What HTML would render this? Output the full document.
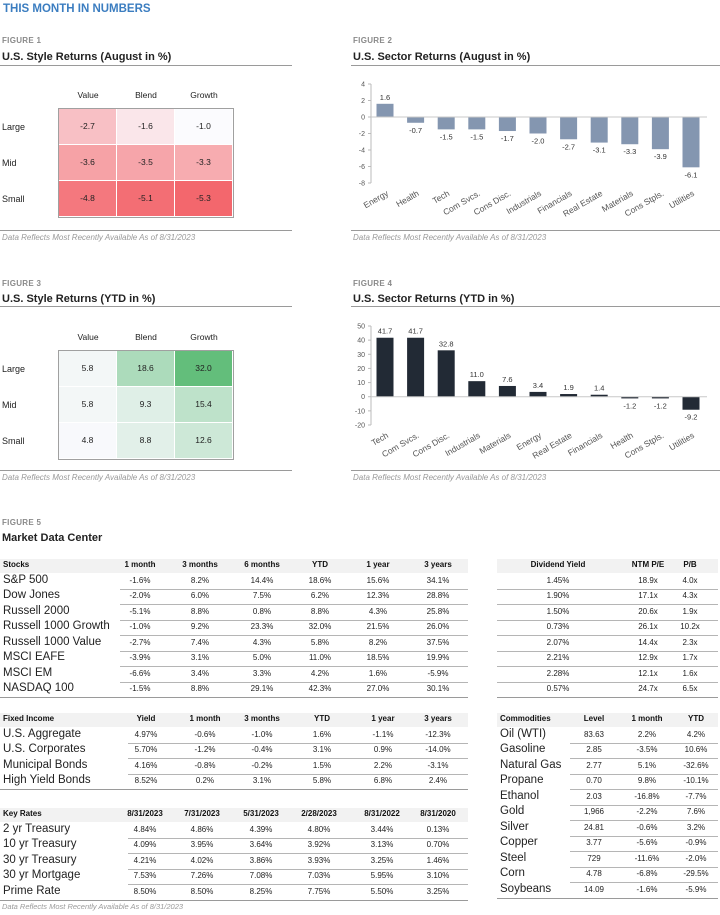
<!DOCTYPE html>
<html><head><meta charset="utf-8">
<style>
body{margin:0;width:720px;height:915px;background:#fff;font-family:"Liberation Sans",sans-serif;position:relative;overflow:hidden;color:#222}
.a{position:absolute;white-space:nowrap}
.fig{font-size:8px;font-weight:bold;color:#8a8a8a;letter-spacing:.3px}
.ttl{font-size:11px;font-weight:bold;color:#222}
.ln{position:absolute;height:1px;background:#9a9a9a}
.foot{font-size:8px;font-style:italic;color:#9a9a9a}
.c{transform:translateX(-50%)}
.hd{font-size:8px;font-weight:bold;color:#111}
.dv{font-size:8px;color:#222}
.lb{font-size:11.5px;color:#222}
</style></head><body>
<div class="a" style="left:3px;top:3px;font-size:11.5px;font-weight:bold;color:#3b7dc0">THIS MONTH IN NUMBERS</div>

<div class="a fig" style="left:2px;top:36px">FIGURE 1</div>
<div class="a ttl" style="left:2px;top:51px">U.S. Style Returns (August in %)</div>
<div class="ln" style="left:0;top:65px;width:292px"></div>
<div id="hm1"></div>
<div class="ln" style="left:0;top:230px;width:292px"></div>
<div class="a foot" style="left:2px;top:233px">Data Reflects Most Recently Available As of 8/31/2023</div>

<div class="a fig" style="left:353px;top:36px">FIGURE 2</div>
<div class="a ttl" style="left:353px;top:51px">U.S. Sector Returns (August in %)</div>
<div class="ln" style="left:351px;top:65px;width:369px"></div>
<svg id="c2" class="a" style="left:0;top:0" width="720" height="915"></svg>
<div class="ln" style="left:351px;top:230px;width:369px"></div>
<div class="a foot" style="left:353px;top:233px">Data Reflects Most Recently Available As of 8/31/2023</div>

<div class="a fig" style="left:2px;top:279px">FIGURE 3</div>
<div class="a ttl" style="left:2px;top:293px">U.S. Style Returns (YTD in %)</div>
<div class="ln" style="left:0;top:306px;width:292px"></div>
<div id="hm3"></div>
<div class="ln" style="left:0;top:470px;width:292px"></div>
<div class="a foot" style="left:2px;top:473px">Data Reflects Most Recently Available As of 8/31/2023</div>

<div class="a fig" style="left:353px;top:279px">FIGURE 4</div>
<div class="a ttl" style="left:353px;top:293px">U.S. Sector Returns (YTD in %)</div>
<div class="ln" style="left:351px;top:306px;width:369px"></div>
<div class="ln" style="left:351px;top:470px;width:369px"></div>
<div class="a foot" style="left:353px;top:473px">Data Reflects Most Recently Available As of 8/31/2023</div>

<div class="a fig" style="left:2px;top:518px">FIGURE 5</div>
<div class="a ttl" style="left:2px;top:532px">Market Data Center</div>
<div id="tables"></div>
<div class="a foot" style="left:2px;top:902px;font-size:7.5px">Data Reflects Most Recently Available As of 8/31/2023</div>

<script>
// ---- Heatmap data
const hmCols=["Value","Blend","Growth"];
const hmRows=["Large","Mid","Small"];
const augStyle=[[-2.7,-1.6,-1.0],[-3.6,-3.5,-3.3],[-4.8,-5.1,-5.3]];
const ytdStyle=[[5.8,18.6,32.0],[5.8,9.3,15.4],[4.8,8.8,12.6]];
// ---- Sector chart data
const augSectors=["Energy","Health","Tech","Com Svcs.","Cons Disc.","Industrials","Financials","Real Estate","Materials","Cons Stpls.","Utilities"];
const augValues=[1.6,-0.7,-1.5,-1.5,-1.7,-2.0,-2.7,-3.1,-3.3,-3.9,-6.1];
const augTicks=[4,2,0,-2,-4,-6,-8];
const ytdSectors=["Tech","Com Svcs.","Cons Disc.","Industrials","Materials","Energy","Real Estate","Financials","Health","Cons Stpls.","Utilities"];
const ytdValues=[41.7,41.7,32.8,11.0,7.6,3.4,1.9,1.4,-1.2,-1.2,-9.2];
const ytdTicks=[50,40,30,20,10,0,-10,-20];

function mix(c1,c2,t){return "rgb("+c1.map((v,i)=>Math.round(v+(c2[i]-v)*t)).join(",")+")";}
function heat(id,data,top,cLo,cHi){
  const root=document.getElementById(id);
  const all=data.flat(),mn=Math.min(...all),mx=Math.max(...all);
  const x0=59,cw=58,rh=36,y0=top;
  hmCols.forEach((c,j)=>{const d=document.createElement('div');d.className='a c';d.style.cssText=`left:${x0+cw*j+cw/2}px;top:${y0-19}px;font-size:8.5px`;d.textContent=c;
    
    
    root.appendChild(d);});
  const box=document.createElement('div');box.className='a';box.style.cssText=`left:${x0-1}px;top:${y0-1}px;width:${cw*3}px;height:${rh*3}px;border:1px solid #a0a0a0`;
  
  
  root.appendChild(box);
  hmRows.forEach((r,i)=>{
    const l=document.createElement('div');l.className='a';l.style.cssText=`left:2px;top:${y0+rh*i+13}px;font-size:9px`;l.textContent=r;
    
    
    root.appendChild(l);
    data[i].forEach((v,j)=>{
      const t=(v-mn)/(mx-mn);
      const d=document.createElement('div');d.className='a';
      d.style.cssText=`left:${x0+cw*j}px;top:${y0+rh*i}px;width:${cw-1}px;height:${rh-1}px;background:${mix(cLo,cHi,t)};font-size:8.5px;text-align:center;line-height:${rh-1}px`;
      d.textContent=v.toFixed(1);
      
      
      root.appendChild(d);
    });
  });
}
heat('hm1',augStyle,109,[243,103,109],[251,251,254]);
heat('hm3',ytdStyle,351,[248,249,252],[99,190,123]);

const NS="http://www.w3.org/2000/svg";
const svg=document.getElementById('c2');
function el(tag,attrs,txt){const e=document.createElementNS(NS,tag);for(const k in attrs)e.setAttribute(k,attrs[k]);if(txt!==undefined)e.textContent=txt;svg.appendChild(e);return e;}
function barChart(cats,vals,ticks,yTop,yBot,color,prefix){
  const tMax=ticks[0],tMin=ticks[ticks.length-1];
  const y=v=>yTop+(tMax-v)/(tMax-tMin)*(yBot-yTop);
  const x=i=>385+i*30.6;
  const ax=el('line',{x1:371,x2:371,y1:y(tMax),y2:y(tMin),stroke:'#bbb','stroke-width':1});
  
  
  ticks.forEach(t=>{
    const tk=el('line',{x1:368,x2:371,y1:y(t),y2:y(t),stroke:'#bbb'});
    
    
    const tl=el('text',{x:365,y:y(t)+2.5,'text-anchor':'end','font-size':7,fill:'#555','font-family':'Liberation Sans'},t);
    
    
  });
  vals.forEach((v,i)=>{
    const y0=y(0),yv=y(v);
    const b=el('rect',{x:x(i)-8.5,y:Math.min(y0,yv),width:17,height:Math.max(0.8,Math.abs(yv-y0)),fill:color});
    
    
    const lt=el('text',{x:x(i),y:v>=0?yv-4:yv+10,'text-anchor':'middle','font-size':7.5,fill:'#333','font-family':'Liberation Sans'},v.toFixed(1));
    
    
    const cl=el('text',{x:x(i)+4,y:yBot+12,'text-anchor':'end','font-size':8.5,fill:'#555','font-family':'Liberation Sans',transform:`rotate(-30 ${x(i)+4} ${yBot+12})`},cats[i]);
    
    
  });
  const z=el('line',{x1:371,x2:707,y1:y(0),y2:y(0),stroke:'#c8c8c8'});
  
  
}
barChart(augSectors,augValues,augTicks,84,183,'#8496b0','aug');
barChart(ytdSectors,ytdValues,ytdTicks,326,425,'#222a35','ytd');

// ---- Tables
const T=document.getElementById('tables');
function put(txt,x,y,cls,align,name){
  const d=document.createElement('div');d.className='a '+cls;
  d.style.top=(y-6)+'px';
  if(align==='c'){d.style.left=x+'px';d.style.transform='translateX(-50%)';}else d.style.left=x+'px';
  if(cls==='lb')d.style.top=(y-8)+'px';
  d.textContent=txt;
  
  
  T.appendChild(d);
}
function rect(x,y,w,h,bg,name){const d=document.createElement('div');d.className='a';d.style.cssText=`left:${x}px;top:${y}px;width:${w}px;height:${h}px;background:${bg}`;
  
  
  T.appendChild(d);}
function table(title,heads,cols,rows,y0,x0,x1,lineX,name){
  const st=15.5;
  rect(x0,y0-7,x1-x0,14,'#f2f2f2',name+'-header-bg');
  if(title)put(title,x0+3,y0,'hd','l',name+'-title');
  heads.forEach((h,j)=>put(h,cols[j],y0,'hd','c',name+'-column-header'));
  rows.forEach((r,i)=>{
    const y=y0+st*(i+1);
    if(r[0])put(r[0],x0+3,y,'lb','l',name+'-row-label');
    r.slice(1).forEach((v,j)=>put(v,cols[j],y,'dv','c',name+'-cell'));
    rect(lineX,y+7,x1-lineX,1,i===rows.length-1?'#9a9a9a':'#b5b5b5',name+'-row-rule');
  });
  rect(x0,y0+st*rows.length+7,x1-x0,1,'#9a9a9a',name+'-bottom-rule');
}
table("Stocks",["1 month","3 months","6 months","YTD","1 year","3 years"],[140,200,262,320,378,438],[
["S&P 500","-1.6%","8.2%","14.4%","18.6%","15.6%","34.1%"],
["Dow Jones","-2.0%","6.0%","7.5%","6.2%","12.3%","28.8%"],
["Russell 2000","-5.1%","8.8%","0.8%","8.8%","4.3%","25.8%"],
["Russell 1000 Growth","-1.0%","9.2%","23.3%","32.0%","21.5%","26.0%"],
["Russell 1000 Value","-2.7%","7.4%","4.3%","5.8%","8.2%","37.5%"],
["MSCI EAFE","-3.9%","3.1%","5.0%","11.0%","18.5%","19.9%"],
["MSCI EM","-6.6%","3.4%","3.3%","4.2%","1.6%","-5.9%"],
["NASDAQ 100","-1.5%","8.8%","29.1%","42.3%","27.0%","30.1%"]],566,0,468,120,'stocks-table');
table("",["Dividend Yield","NTM P/E","P/B"],[558,648,690],[
["","1.45%","18.9x","4.0x"],["","1.90%","17.1x","4.3x"],["","1.50%","20.6x","1.9x"],["","0.73%","26.1x","10.2x"],
["","2.07%","14.4x","2.3x"],["","2.21%","12.9x","1.7x"],["","2.28%","12.1x","1.6x"],["","0.57%","24.7x","6.5x"]],566,497,718,497,'valuation-table');
table("Fixed Income",["Yield","1 month","3 months","YTD","1 year","3 years"],[146,205,262,322,383,438],[
["U.S. Aggregate","4.97%","-0.6%","-1.0%","1.6%","-1.1%","-12.3%"],
["U.S. Corporates","5.70%","-1.2%","-0.4%","3.1%","0.9%","-14.0%"],
["Municipal Bonds","4.16%","-0.8%","-0.2%","1.5%","2.2%","-3.1%"],
["High Yield Bonds","8.52%","0.2%","3.1%","5.8%","6.8%","2.4%"]],720,0,468,128,'fixed-income-table');
table("Key Rates",["8/31/2023","7/31/2023","5/31/2023","2/28/2023","8/31/2022","8/31/2020"],[145,202,261,319,382,438],[
["2 yr Treasury","4.84%","4.86%","4.39%","4.80%","3.44%","0.13%"],
["10 yr Treasury","4.09%","3.95%","3.64%","3.92%","3.13%","0.70%"],
["30 yr Treasury","4.21%","4.02%","3.86%","3.93%","3.25%","1.46%"],
["30 yr Mortgage","7.53%","7.26%","7.08%","7.03%","5.95%","3.10%"],
["Prime Rate","8.50%","8.50%","8.25%","7.75%","5.50%","3.25%"]],815,0,468,128,'key-rates-table');
table("Commodities",["Level","1 month","YTD"],[594,647,696],[
["Oil (WTI)","83.63","2.2%","4.2%"],["Gasoline","2.85","-3.5%","10.6%"],["Natural Gas","2.77","5.1%","-32.6%"],
["Propane","0.70","9.8%","-10.1%"],["Ethanol","2.03","-16.8%","-7.7%"],["Gold","1,966","-2.2%","7.6%"],
["Silver","24.81","-0.6%","3.2%"],["Copper","3.77","-5.6%","-0.9%"],["Steel","729","-11.6%","-2.0%"],
["Corn","4.78","-6.8%","-29.5%"],["Soybeans","14.09","-1.6%","-5.9%"]],720,497,718,570,'commodities-table');
</script>
</body></html>
